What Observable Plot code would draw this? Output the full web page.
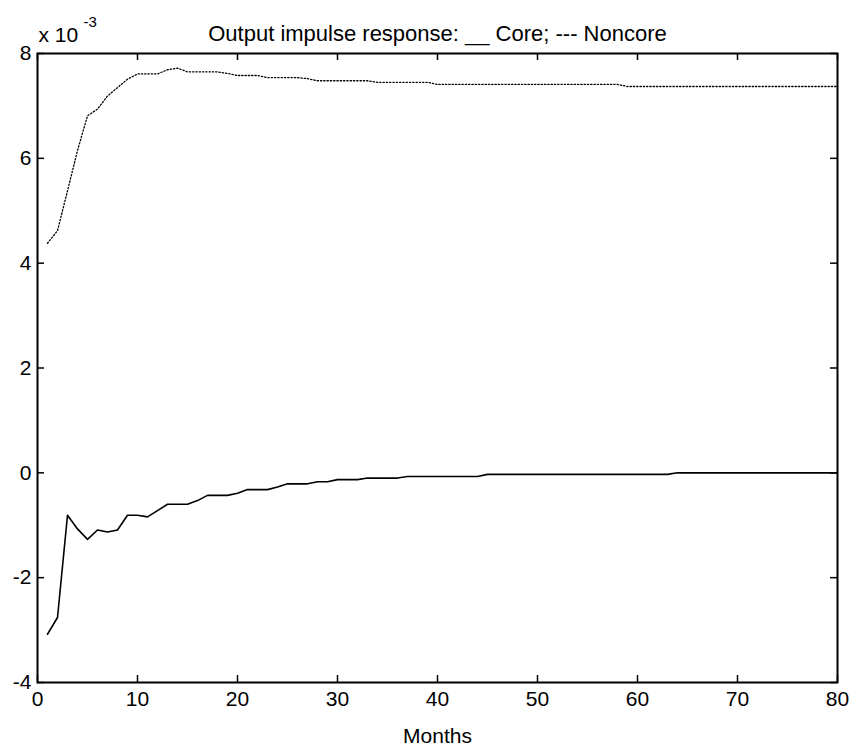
<!DOCTYPE html>
<html>
<head>
<meta charset="utf-8">
<script src="https://cdn.jsdelivr.net/npm/d3@7"></script>
<script src="https://cdn.jsdelivr.net/npm/@observablehq/plot@0.6"></script>
<style>
  html, body { margin: 0; padding: 0; background: #fff; }
</style>
</head>
<body>
<div id="chart"></div>
<script>
const months = d3.range(1, 81);
const core = [
  -3.08, -2.76, -0.81, -1.07, -1.27, -1.09, -1.13, -1.09, -0.81, -0.81,
  -0.84, -0.72, -0.60, -0.60, -0.60, -0.53, -0.43, -0.43, -0.43, -0.39,
  -0.32, -0.32, -0.32, -0.27, -0.21, -0.21, -0.21, -0.17, -0.17, -0.13,
  -0.13, -0.13, -0.10, -0.10, -0.10, -0.10, -0.07, -0.07, -0.07, -0.07,
  -0.07, -0.07, -0.07, -0.07, -0.03, -0.03, -0.03, -0.03, -0.03, -0.03,
  -0.03, -0.03, -0.03, -0.03, -0.03, -0.03, -0.03, -0.03, -0.03, -0.03,
  -0.03, -0.03, -0.03, 0.00, 0.00, 0.00, 0.00, 0.00, 0.00, 0.00,
  0.00, 0.00, 0.00, 0.00, 0.00, 0.00, 0.00, 0.00, 0.00, 0.00
];
const noncore = [
  4.38, 4.62, 5.38, 6.15, 6.81, 6.94, 7.19, 7.35, 7.51, 7.61,
  7.61, 7.61, 7.69, 7.72, 7.65, 7.65, 7.65, 7.65, 7.62, 7.58,
  7.58, 7.58, 7.54, 7.54, 7.54, 7.54, 7.52, 7.48, 7.48, 7.48,
  7.48, 7.48, 7.48, 7.45, 7.45, 7.45, 7.45, 7.45, 7.45, 7.41,
  7.41, 7.41, 7.41, 7.41, 7.41, 7.41, 7.41, 7.41, 7.41, 7.41,
  7.41, 7.41, 7.41, 7.41, 7.41, 7.41, 7.41, 7.41, 7.37, 7.37,
  7.37, 7.37, 7.37, 7.37, 7.37, 7.37, 7.37, 7.37, 7.37, 7.37,
  7.37, 7.37, 7.37, 7.37, 7.37, 7.37, 7.37, 7.37, 7.37, 7.37
];
const xTicks = [0, 10, 20, 30, 40, 50, 60, 70, 80];
const yTicks = [-4, -2, 0, 2, 4, 6, 8];
const titleText = "Output impulse response: __ Core; --- Noncore";
const xLabel = "Months";
const scaleBase = "x 10";
const scaleExp = "-3";

const W = 853, H = 751;
const mL = 37, mR = 16, mT = 53, mB = 69;
const innerH = H - mT - mB;
const innerW = W - mL - mR;
const tickLen = 7;
const FS = 21;

const coreData = months.map((m, i) => ({m, v: core[i]}));
const noncoreData = months.map((m, i) => ({m, v: noncore[i]}));

const chart = Plot.plot({
  width: W,
  height: H,
  marginLeft: mL,
  marginRight: mR,
  marginTop: mT,
  marginBottom: mB,
  style: {fontFamily: "'Liberation Sans', Arial, sans-serif", fontSize: FS + "px", color: "#000", background: "#fff"},
  x: {domain: [0, 80]},
  y: {domain: [-4, 8]},
  marks: [
    Plot.axisX({ticks: xTicks, tickFormat: d => String(d), tickSize: 0, tickPadding: 9, label: null, fontSize: FS}),
    Plot.axisY({ticks: yTicks, tickFormat: d => String(d), tickSize: 0, tickPadding: 6, label: null, fontSize: FS}),
    // inward ticks (bottom, top)
    Plot.tickX(xTicks, {x: d => d, insetTop: innerH - tickLen, stroke: "#000", strokeWidth: 1.5}),
    Plot.tickX(xTicks, {x: d => d, insetBottom: innerH - tickLen, stroke: "#000", strokeWidth: 1.5}),
    // inward ticks (left, right)
    Plot.tickY(yTicks, {y: d => d, insetRight: innerW - tickLen, stroke: "#000", strokeWidth: 1.5}),
    Plot.tickY(yTicks, {y: d => d, insetLeft: innerW - tickLen, stroke: "#000", strokeWidth: 1.5}),
    Plot.line(noncoreData, {x: "m", y: "v", stroke: "#000", strokeWidth: 1.3, strokeDasharray: "1.3,2"}),
    Plot.line(coreData, {x: "m", y: "v", stroke: "#000", strokeWidth: 1.6}),
    Plot.frame({stroke: "#000", strokeWidth: 2}),
    Plot.text([titleText], {frameAnchor: "top", dy: -28, fontSize: 22, fill: "#000"}),
    Plot.text([scaleBase], {frameAnchor: "top-left", textAnchor: "start", dy: -26, dx: 1, fontSize: FS, fill: "#000"}),
    Plot.text([scaleExp], {frameAnchor: "top-left", textAnchor: "start", dy: -37, dx: 46, fontSize: 15, fill: "#000"}),
    Plot.text([xLabel], {frameAnchor: "bottom", dy: 60, fontSize: FS, fill: "#000"})
  ]
});
document.getElementById("chart").appendChild(chart);
</script>
</body>
</html>
